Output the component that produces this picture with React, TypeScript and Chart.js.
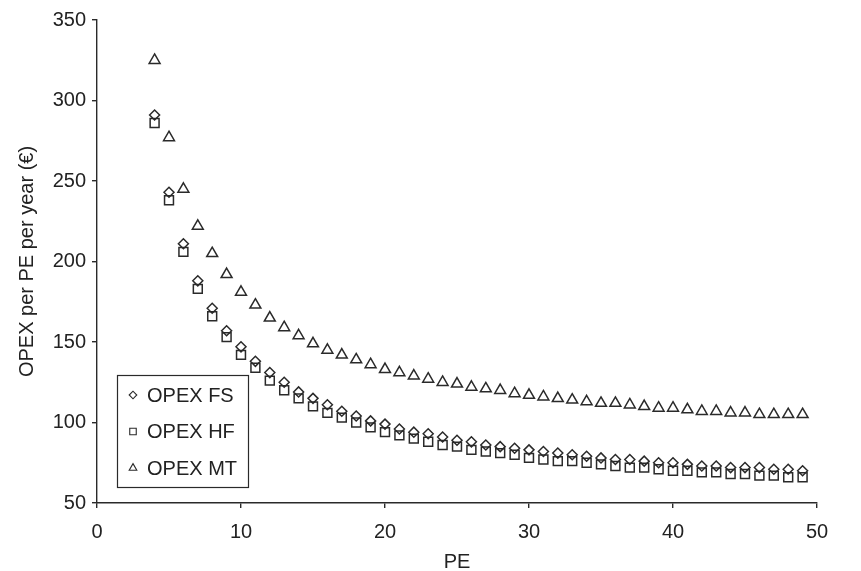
import React, { useEffect, useRef } from "react";
import { Chart, registerables } from "chart.js";

Chart.register(...registerables);

const peValues = [4, 5, 6, 7, 8, 9, 10, 11, 12, 13, 14, 15, 16, 17, 18, 19, 20, 21, 22, 23, 24, 25, 26, 27, 28, 29, 30, 31, 32, 33, 34, 35, 36, 37, 38, 39, 40, 41, 42, 43, 44, 45, 46, 47, 48, 49];

const opexFS = [291, 243, 211, 188, 171, 157, 147, 138, 131, 125, 119, 115, 111, 107, 104, 101, 99, 96, 94, 93, 91, 89, 88, 86, 85, 84, 83, 82, 81, 80, 79, 78, 77, 77, 76, 75, 75, 74, 73, 73, 72, 72, 72, 71, 71, 70];

const opexHF = [286, 238, 206, 183, 166, 153, 142, 134, 126, 120, 115, 110, 106, 103, 100, 97, 94, 92, 90, 88, 86, 85, 83, 82, 81, 80, 78, 77, 76, 76, 75, 74, 73, 72, 72, 71, 70, 70, 69, 69, 68, 68, 67, 67, 66, 66];

const opexMT = [325, 277, 245, 222, 205, 192, 181, 173, 165, 159, 154, 149, 145, 142, 139, 136, 133, 131, 129, 127, 125, 124, 122, 121, 120, 118, 117, 116, 115, 114, 113, 112, 112, 111, 110, 109, 109, 108, 107, 107, 106, 106, 105, 105, 105, 105];

const seriesLabels = ["OPEX FS", "OPEX HF", "OPEX MT"];
const xTitle = "PE";
const yTitle = "OPEX per PE per year (€)";

const FONT = "'Liberation Sans', Arial, Helvetica, sans-serif";
const INK = "#222222";
const LINE = "#2a2a2a";

const toPoints = (ys: number[]) => peValues.map((x, i) => ({ x, y: ys[i] }));

function drawMarker(ctx: CanvasRenderingContext2D, style: string, r: number, x: number, y: number) {
  ctx.beginPath();
  if (style === "rectRot") {
    ctx.moveTo(x - r, y);
    ctx.lineTo(x, y - r);
    ctx.lineTo(x + r, y);
    ctx.lineTo(x, y + r);
    ctx.closePath();
  } else if (style === "rect") {
    const s = Math.SQRT1_2 * r;
    ctx.rect(x - s, y - s, 2 * s, 2 * s);
  } else {
    let rad = 0;
    ctx.moveTo(x + Math.sin(rad) * r, y - Math.cos(rad) * r);
    rad += (2 * Math.PI) / 3;
    ctx.lineTo(x + Math.sin(rad) * r, y - Math.cos(rad) * r);
    rad += (2 * Math.PI) / 3;
    ctx.lineTo(x + Math.sin(rad) * r, y - Math.cos(rad) * r);
    ctx.closePath();
  }
  ctx.stroke();
}

const legendPlugin = {
  id: "boxLegend",
  afterDraw(chart: any) {
    const { ctx, chartArea } = chart;
    const left = chartArea.left + 20;
    const bottom = chartArea.bottom - 16;
    const w = 131;
    const h = 112;
    const top = bottom - h;
    ctx.save();
    ctx.fillStyle = "#ffffff";
    ctx.fillRect(left, top, w, h);
    ctx.strokeStyle = LINE;
    ctx.lineWidth = 1.2;
    ctx.strokeRect(left + 0.5, top + 0.5, w, h);
    const styles = ["rectRot", "rect", "triangle"];
    const radii = [3.8, 4.6, 4.4];
    chart.data.datasets.forEach((ds: any, i: number) => {
      const cy = top + 20 + i * 36.5;
      const cx = left + 16;
      ctx.strokeStyle = LINE;
      ctx.lineWidth = 1.1;
      drawMarker(ctx, styles[i], radii[i], cx, cy);
      ctx.fillStyle = INK;
      ctx.font = `20px ${FONT}`;
      ctx.textAlign = "left";
      ctx.textBaseline = "middle";
      ctx.fillText(ds.label, left + 30, cy + 1);
    });
    ctx.restore();
  },
};

export default function App() {
  const canvasRef = useRef<HTMLCanvasElement | null>(null);

  useEffect(() => {
    if (!canvasRef.current) return;
    const common = {
      showLine: false,
      borderColor: LINE,
      backgroundColor: "rgba(0,0,0,0)",
      borderWidth: 1.5,
      pointBorderWidth: 1.5,
      pointHoverRadius: 6,
    };
    const chart = new Chart(canvasRef.current, {
      type: "scatter",
      data: {
        datasets: [
          { ...common, label: seriesLabels[0], data: toPoints(opexFS), pointStyle: "rectRot", pointRadius: 5 },
          { ...common, label: seriesLabels[1], data: toPoints(opexHF), pointStyle: "rect", pointRadius: 6.3 },
          { ...common, label: seriesLabels[2], data: toPoints(opexMT), pointStyle: "triangle", pointRadius: 6.3 },
        ],
      },
      options: {
        animation: false,
        responsive: false,
        devicePixelRatio: 1,
        layout: { padding: { top: 20, right: 44, left: 0, bottom: 0 } },
        plugins: {
          legend: { display: false },
          tooltip: { enabled: false },
        },
        scales: {
          x: {
            type: "linear",
            min: 0,
            max: 50,
            ticks: { stepSize: 10, color: INK, font: { family: FONT, size: 20 }, padding: 12, maxRotation: 0 },
            grid: { display: true, drawOnChartArea: false, drawTicks: true, tickLength: 5, color: LINE, lineWidth: 1.4 },
            border: { display: true, color: LINE, width: 1.4 },
            title: { display: true, text: xTitle, color: INK, font: { family: FONT, size: 20 }, padding: { top: 0, bottom: -3 } },
            afterFit: (scale: any) => {
              scale.height = 68;
            },
          },
          y: {
            type: "linear",
            min: 50,
            max: 350,
            ticks: { stepSize: 50, color: INK, font: { family: FONT, size: 20 }, padding: 6 },
            grid: { display: true, drawOnChartArea: false, drawTicks: true, tickLength: 5, color: LINE, lineWidth: 1.4 },
            border: { display: true, color: LINE, width: 1.4 },
            title: { display: true, text: yTitle, color: INK, font: { family: FONT, size: 20 }, padding: { top: 15, bottom: 0 } },
            afterFit: (scale: any) => {
              scale.width = 97;
            },
          },
        },
      },
      plugins: [legendPlugin],
    } as any);
    return () => chart.destroy();
  }, []);

  return (
    <div style={{ position: "absolute", left: 0, top: 0, width: 861, height: 571, background: "#fff" }}>
      <canvas ref={canvasRef} width={861} height={571} style={{ width: 861, height: 571, display: "block" }} />
    </div>
  );
}
